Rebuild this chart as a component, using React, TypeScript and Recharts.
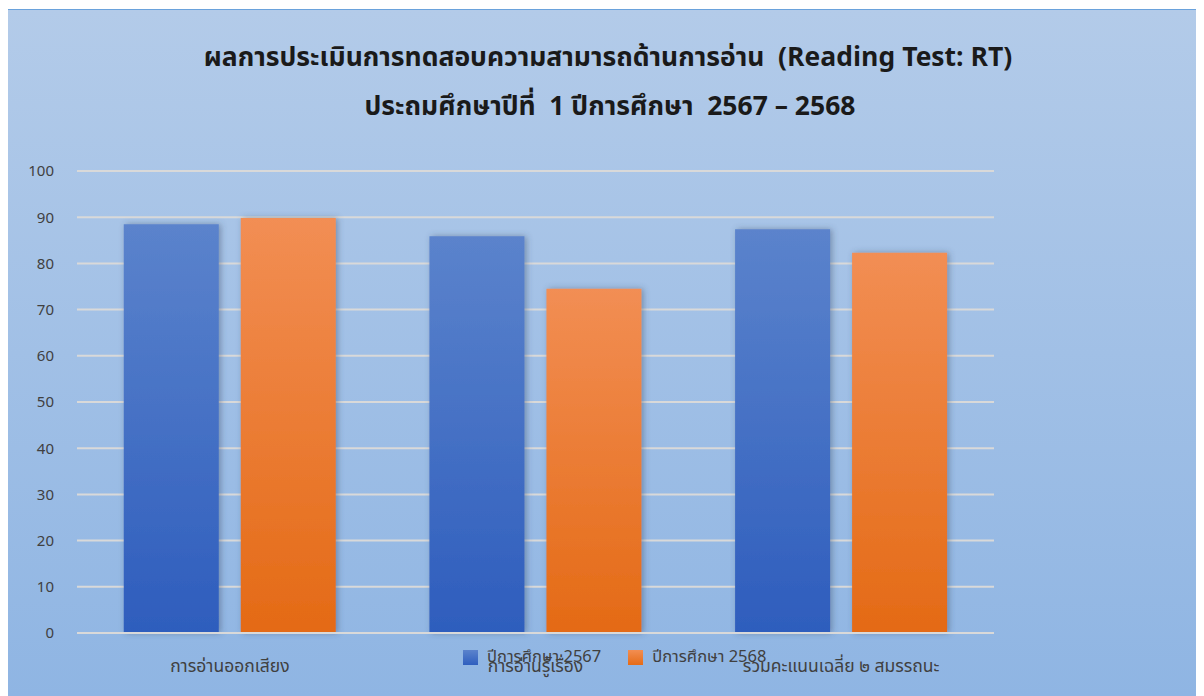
import React from "react";
import { BarChart, Bar, XAxis, YAxis, CartesianGrid, Legend } from "recharts";

const categories = ["การอ่านออกเสียง", "การอ่านรู้เรื่อง", "รวมคะแนนเฉลี่ย ๒ สมรรถนะ"];
const series2567 = [88.5, 85.9, 87.4];
const series2568 = [89.8, 74.5, 82.3];
const yTicks = [0, 10, 20, 30, 40, 50, 60, 70, 80, 90, 100];
const seriesNames = ["ปีการศึกษา 2567", "ปีการศึกษา 2568"];
const titleLines = [
  "ผลการประเมินการทดสอบความสามารถด้านการอ่าน  (Reading Test: RT)",
  "ประถมศึกษาปีที่  1 ปีการศึกษา  2567 – 2568",
];

const data = categories.map((c, i) => ({ name: c, a: series2567[i], b: series2568[i] }));

const FONT = "Tahoma, 'Noto Sans Thai', 'Noto Sans', 'DejaVu Sans', sans-serif";

const LegendContent = () => (
  <div style={{ display: "flex", alignItems: "center", fontFamily: FONT, fontSize: 16.5, color: "#404040", lineHeight: "20px" }}>
    <span style={{ width: 15, height: 15, background: "linear-gradient(#5b83cc,#2f5fbf)", display: "inline-block", marginRight: 9 }} />
    <span style={{ marginRight: 27 }}>{seriesNames[0]}</span>
    <span style={{ width: 15, height: 15, background: "linear-gradient(#f28e52,#e56b17)", display: "inline-block", marginRight: 9 }} />
    <span>{seriesNames[1]}</span>
  </div>
);

export default function App() {
  return (
    <div
      style={{
        position: "relative",
        width: 1196,
        height: 686,
        marginLeft: -1,
        marginTop: 1,
        borderTop: "1px solid #6aa2dc",
        borderLeft: "1px solid #6aa2dc",
        background: "linear-gradient(#b3cbe9, #8fb5e3)",
        overflow: "hidden",
      }}
    >
      <div
        style={{
          position: "absolute",
          left: 0,
          width: 1200,
          top: 24,
          textAlign: "center",
          fontFamily: FONT,
          fontWeight: "bold",
          fontSize: 26.5,
          lineHeight: "49px",
          color: "#1a1a1a",
          whiteSpace: "pre",
        }}
      >
        <div>{titleLines[0]}</div>
        <div style={{ paddingLeft: 4 }}>{titleLines[1]}</div>
      </div>
      <div style={{ position: "absolute", left: 0, top: 0 }}>
        <BarChart
          width={1195}
          height={686}
          data={data}
          margin={{ top: 161, right: 209, bottom: 13, left: 9 }}
          barCategoryGap="15.3%"
          barGap={22}
        >
          <defs>
            <linearGradient id="gBlue" x1="0" y1="0" x2="0" y2="1">
              <stop offset="0%" stopColor="#5b83cc" />
              <stop offset="100%" stopColor="#2e5dbd" />
            </linearGradient>
            <linearGradient id="gOrange" x1="0" y1="0" x2="0" y2="1">
              <stop offset="0%" stopColor="#f28e54" />
              <stop offset="100%" stopColor="#e46a15" />
            </linearGradient>
            <filter id="shadow" x="-20%" y="-5%" width="140%" height="110%">
              <feDropShadow dx="2" dy="0" stdDeviation="3" floodColor="#3a4a66" floodOpacity="0.45" />
            </filter>
          </defs>
          <CartesianGrid vertical={false} stroke="#d9d9d9" strokeWidth={2} />
          <XAxis
            dataKey="name"
            axisLine={{ stroke: "#d9d9d9", strokeWidth: 2 }}
            tickLine={false}
            tickMargin={21}
            height={30}
            interval={0}
            tick={{ fill: "#404040", fontSize: 17.5, fontFamily: FONT }}
          />
          <YAxis
            domain={[0, 100]}
            ticks={yTicks}
            axisLine={false}
            tickLine={false}
            tickMargin={17}
            width={60}
            tick={{ fill: "#404040", fontSize: 15, fontFamily: FONT }}
          />
          <Legend
            content={<LegendContent />}
            wrapperStyle={{ position: "absolute", left: 455, top: 637, width: "auto" }}
          />
          <Bar dataKey="a" name={seriesNames[0]} fill="url(#gBlue)" filter="url(#shadow)" isAnimationActive={false} />
          <Bar dataKey="b" name={seriesNames[1]} fill="url(#gOrange)" filter="url(#shadow)" isAnimationActive={false} />
        </BarChart>
      </div>
    </div>
  );
}
